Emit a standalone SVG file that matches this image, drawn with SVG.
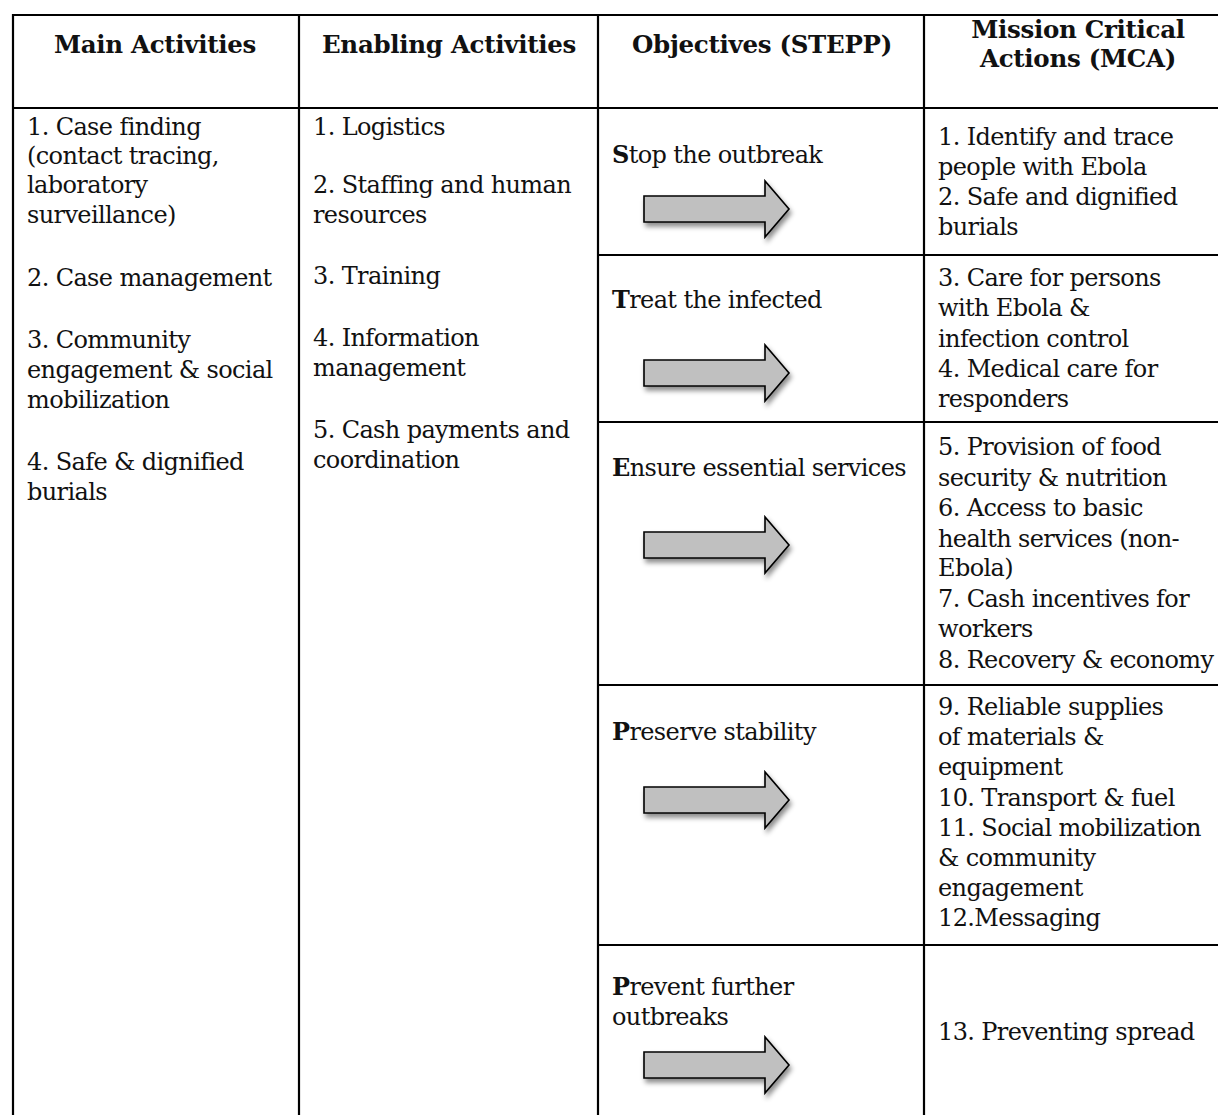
<svg xmlns="http://www.w3.org/2000/svg" width="1218" height="1115" viewBox="0 0 1218 1115">
<defs>
<style>
text{font-family:"DejaVu Serif","Liberation Serif",serif;font-size:24px;letter-spacing:-0.62px;fill:#111}
.h{font-weight:bold;font-size:24.5px;letter-spacing:-0.3px;text-anchor:middle}
.grid line{stroke:#000;stroke-width:2.2}
.arrow{fill:#c0c0c0;stroke:#000;stroke-width:1.6;stroke-linejoin:miter}
</style>
<filter id="sh" x="-20%" y="-30%" width="150%" height="180%">
<feDropShadow dx="2" dy="4" stdDeviation="2.5" flood-color="#000" flood-opacity="0.45"/>
</filter>
<path id="arr" class="arrow" d="M0,-13 H121 V-28 L145,0 L121,28 V13 H0 Z"/>
</defs>
<rect width="1218" height="1115" fill="#fff"/>
<g class="grid">
<line x1="12" y1="15" x2="1218" y2="15"/>
<line x1="12" y1="108" x2="1218" y2="108"/>
<line x1="13" y1="14" x2="13" y2="1115"/>
<line x1="299" y1="14" x2="299" y2="1115"/>
<line x1="598" y1="14" x2="598" y2="1115"/>
<line x1="924" y1="14" x2="924" y2="1115"/>
<line x1="598" y1="255" x2="1218" y2="255"/>
<line x1="598" y1="422" x2="1218" y2="422"/>
<line x1="598" y1="685" x2="1218" y2="685"/>
<line x1="598" y1="945" x2="1218" y2="945"/>
</g>
<g id="header">
<text class="h" x="155" y="53">Main Activities</text>
<text class="h" x="449" y="53">Enabling Activities</text>
<text class="h" x="762" y="53">Objectives (STEPP)</text>
<text class="h" x="1078" y="38">Mission Critical</text>
<text class="h" x="1078" y="67">Actions (MCA)</text>
</g>
<g id="main-activities">
<text x="27" y="135">1. Case finding</text>
<text x="27" y="164">(contact tracing,</text>
<text x="27" y="193">laboratory</text>
<text x="27" y="223">surveillance)</text>
<text x="27" y="286">2. Case management</text>
<text x="27" y="348">3. Community</text>
<text x="27" y="378">engagement &amp; social</text>
<text x="27" y="408">mobilization</text>
<text x="27" y="470">4. Safe &amp; dignified</text>
<text x="27" y="500">burials</text>
</g>
<g id="enabling-activities">
<text x="313" y="135">1. Logistics</text>
<text x="313" y="193">2. Staffing and human</text>
<text x="313" y="223">resources</text>
<text x="313" y="284">3. Training</text>
<text x="313" y="346">4. Information</text>
<text x="313" y="376">management</text>
<text x="313" y="438">5. Cash payments and</text>
<text x="313" y="468">coordination</text>
</g>
<g id="obj-stop"><text x="612" y="163"><tspan font-weight="bold">S</tspan>top the outbreak</text></g>
<g id="obj-treat"><text x="612" y="308"><tspan font-weight="bold">T</tspan>reat the infected</text></g>
<g id="obj-ensure"><text x="612" y="476"><tspan font-weight="bold">E</tspan>nsure essential services</text></g>
<g id="obj-preserve"><text x="612" y="740"><tspan font-weight="bold">P</tspan>reserve stability</text></g>
<g id="obj-prevent"><text x="612" y="995"><tspan font-weight="bold">P</tspan>revent further</text><text x="612" y="1025">outbreaks</text></g>
<g id="mca-1">
<text x="938" y="145">1. Identify and trace</text>
<text x="938" y="175">people with Ebola</text>
<text x="938" y="205">2. Safe and dignified</text>
<text x="938" y="235">burials</text>
</g>
<g id="mca-2">
<text x="938" y="286">3. Care for persons</text>
<text x="938" y="316">with Ebola &amp;</text>
<text x="938" y="347">infection control</text>
<text x="938" y="377">4. Medical care for</text>
<text x="938" y="407">responders</text>
</g>
<g id="mca-3">
<text x="938" y="455">5. Provision of food</text>
<text x="938" y="486">security &amp; nutrition</text>
<text x="938" y="516">6. Access to basic</text>
<text x="938" y="547">health services (non-</text>
<text x="938" y="576">Ebola)</text>
<text x="938" y="607">7. Cash incentives for</text>
<text x="938" y="637">workers</text>
<text x="938" y="668">8. Recovery &amp; economy</text>
</g>
<g id="mca-4">
<text x="938" y="715">9. Reliable supplies</text>
<text x="938" y="745">of materials &amp;</text>
<text x="938" y="775">equipment</text>
<text x="938" y="806">10. Transport &amp; fuel</text>
<text x="938" y="836">11. Social mobilization</text>
<text x="938" y="866">&amp; community</text>
<text x="938" y="896">engagement</text>
<text x="938" y="926">12.Messaging</text>
</g>
<g id="mca-5">
<text x="938" y="1040">13. Preventing spread</text>
</g>
<g id="arrows" filter="url(#sh)">
<use href="#arr" x="644" y="209"/>
<use href="#arr" x="644" y="373"/>
<use href="#arr" x="644" y="545"/>
<use href="#arr" x="644" y="800"/>
<use href="#arr" x="644" y="1065"/>
</g>
</svg>
